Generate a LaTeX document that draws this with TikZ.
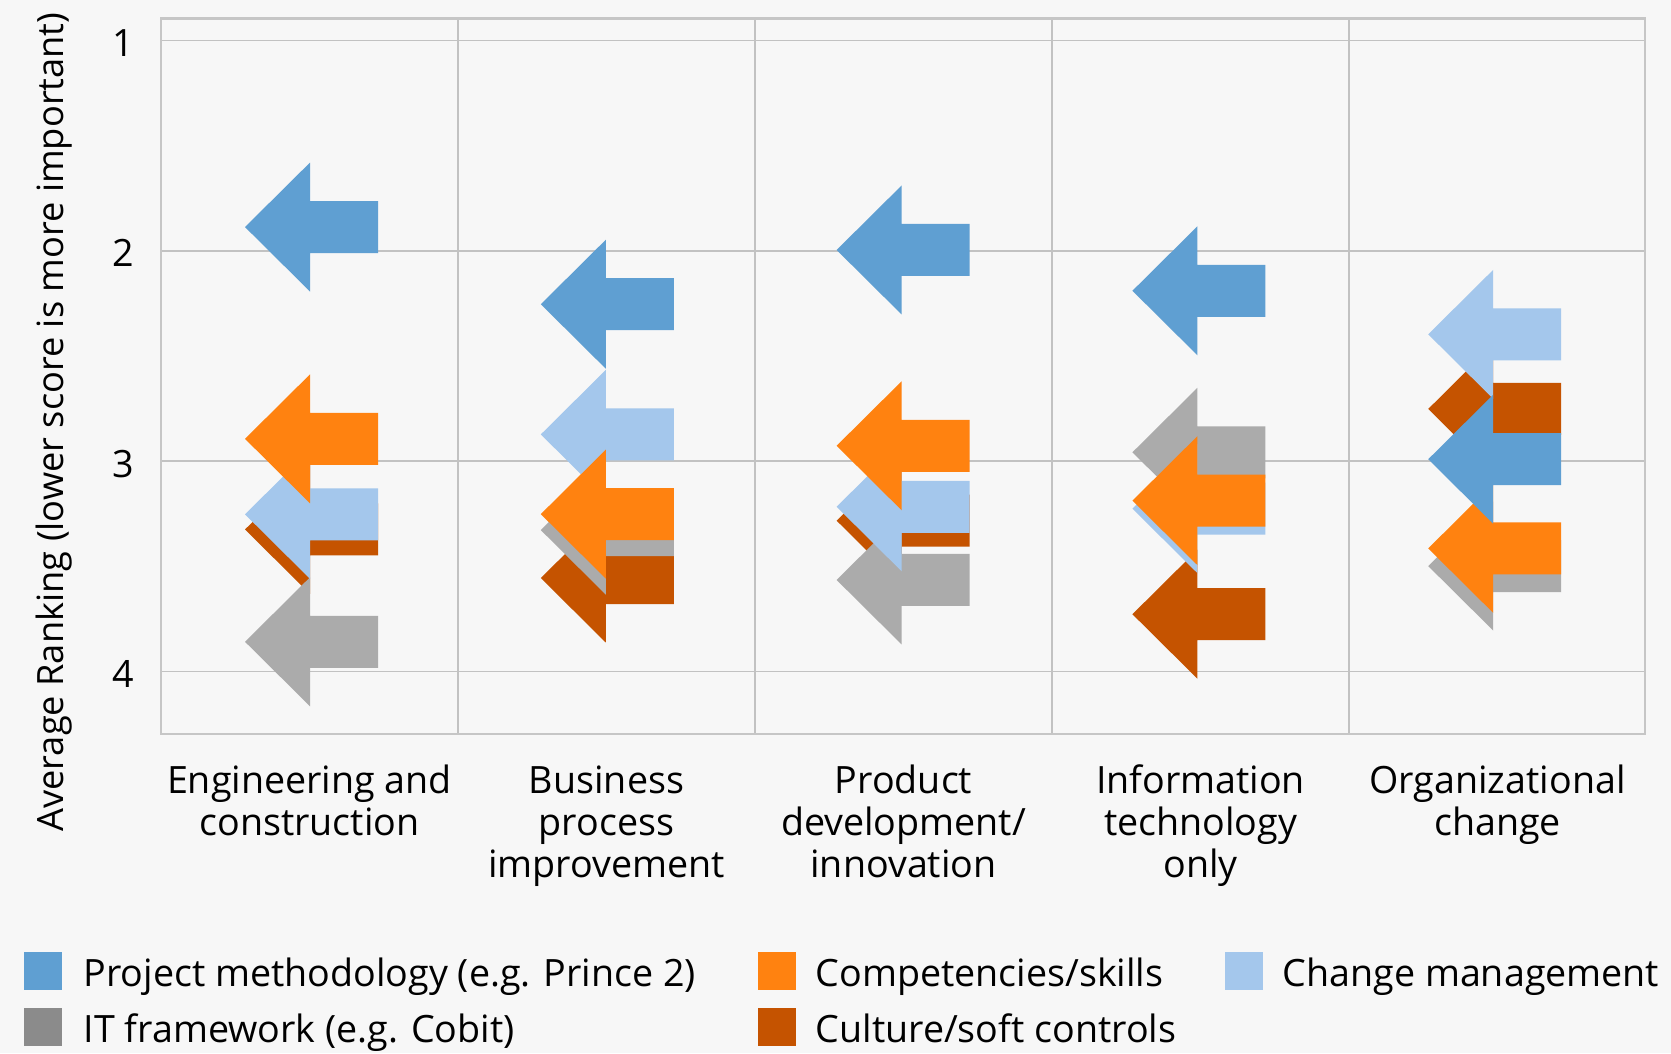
\documentclass[tikz,border=0pt]{standalone}
\usepackage{fontspec}
\setmainfont{Open Sans}
\definecolor{bgcol}{HTML}{F7F7F7}
\definecolor{gridcol}{HTML}{C2C2C2}
\definecolor{framecol}{HTML}{C6C6C6}
\definecolor{method}{HTML}{5F9FD2}
\definecolor{skills}{HTML}{FF8210}
\definecolor{change}{HTML}{A4C7EC}
\definecolor{itgray}{HTML}{ABABAB}
\definecolor{itkey}{HTML}{8B8B8B}
\definecolor{culture}{HTML}{C55300}
\begin{document}
\begin{tikzpicture}[x=0.01cm, y=-0.01cm,
        every node/.style={font=\fontsize{10.7}{12.05}\selectfont, inner sep=0pt},
        grid/.style={draw=gridcol, line width=0.45pt},
        key/.style={fill=#1, minimum size=0.38cm}]
        \fill[bgcol] (0,0) rectangle (1671,1053);
        \useasboundingbox (0,0) rectangle (1671,1053);
        % grid and axis
        \foreach \r in {1,...,4}{
        \draw[grid] (161,{40.5+(\r-1)*210.3}) -- (1645,{40.5+(\r-1)*210.3});
        \node (tick\r) at (123,{43+(\r-1)*210.3}) {\r};
        }
        \foreach \k in {1,...,4}
        \draw[grid] ({161+297*\k},18.3) -- ({161+297*\k},734);
        \draw[framecol, line width=0.7pt] (161,18.3) rectangle (1645,734);
        \node[rotate=90, font=\fontsize{10.3}{12}\selectfont] (ytitle) at (54,422) {Average Ranking (lower score is more important)};
        % arrows, last series first
        \foreach \c/\r/\col in {1/3.325/culture, 2/3.556/culture, 3/3.283/culture, 4/3.728/culture, 5/2.752/culture,
        1/3.859/itgray, 2/3.328/itgray, 3/3.565/itgray, 4/2.958/itgray, 5/3.499/itgray,
        1/3.253/change, 2/2.873/change, 3/3.217/change, 4/3.226/change, 5/2.397/change,
        1/2.894/skills, 2/3.252/skills, 3/2.927/skills, 4/3.188/skills, 5/3.415/skills,
        1/1.887/method, 2/2.254/method, 3/1.996/method, 4/2.190/method, 5/2.991/method}{
        \pgfmathsetmacro\ax{310+295.8*(\c-1)}
        \pgfmathsetmacro\ay{40.5+(\r-1)*210.3}
        \fill[\col] ({\ax-65},\ay) -- ++(65,-64.5) -- ++(0,38.5) -- ++(68,0) -- ++(0,52) -- ++(-68,0) -- ++(0,38.5) -- cycle;
        }
        % categories (base = last line)
        \foreach \c/\n/\t in {1/2/{Engineering and\\construction}, 2/3/{Business\\process\\improvement},
        3/3/{Product\\development/\\innovation}, 4/3/{Information\\technology\\only}, 5/2/{Organizational\\change}}{
        \node[anchor=base, align=center] (cat\c) at ({161+297*(\c-0.5)},{793.3+42.3*(\n-1)}) {\t};
        }
        % legend
        \node[key=method] (kmethod) at (42.6,970.9) {};
        \node[anchor=base west] (lmethod) at (83,986.2) {Project methodology (e.g. Prince 2)};
        \node[key=skills] (kskills) at (776.9,970.9) {};
        \node[anchor=base west] (lskills) at (815,986.2) {Competencies/skills};
        \node[key=change] (kchange) at (1243.8,970.9) {};
        \node[anchor=base west] (lchange) at (1282,986.2) {Change management};
        \node[key=itkey] (kit) at (42.6,1027.3) {};
        \node[anchor=base west] (lit) at (83,1042.2) {IT framework (e.g. Cobit)};
        \node[key=culture] (kculture) at (776.9,1027.3) {};
        \node[anchor=base west] (lculture) at (815,1042.2) {Culture/soft controls};
\end{tikzpicture}
\end{document}
